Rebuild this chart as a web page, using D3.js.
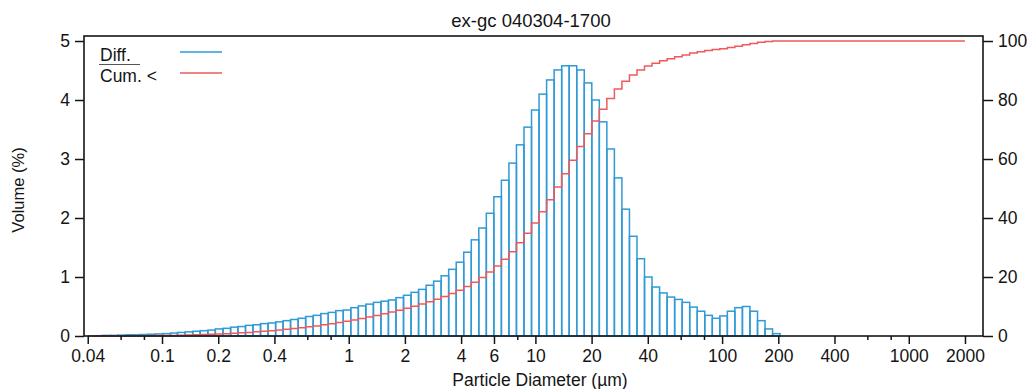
<!DOCTYPE html>
<html>
<head>
<meta charset="utf-8">
<script src="https://cdn.jsdelivr.net/npm/d3@7"></script>
<style>
  body { margin: 0; background: #fff; }
  svg text { font-family: "Liberation Sans", Arial, sans-serif; fill: #141414; }
</style>
</head>
<body>
<svg id="chart" width="1027" height="389"></svg>
<script>
// channel lower edges (um), last entry is the upper edge of the last channel
const channelEdges = [
  0.040, 0.044, 0.048, 0.053, 0.058, 0.064, 0.070, 0.076, 0.084, 0.092,
  0.101, 0.111, 0.121, 0.133, 0.146, 0.160, 0.176, 0.193, 0.212, 0.233,
  0.255, 0.280, 0.307, 0.337, 0.370, 0.406, 0.445, 0.488, 0.536, 0.588,
  0.645, 0.708, 0.777, 0.852, 0.935, 1.026, 1.126, 1.235, 1.356, 1.488,
  1.632, 1.791, 1.966, 2.157, 2.367, 2.597, 2.850, 3.127, 3.431, 3.765,
  4.132, 4.534, 4.975, 5.460, 5.991, 6.574, 7.214, 7.916, 8.687, 9.533,
  10.46, 11.48, 12.60, 13.83, 15.17, 16.65, 18.27, 20.05, 22.00, 24.14,
  26.49, 29.07, 31.90, 35.01, 38.41, 42.15, 46.26, 50.76, 55.70, 61.12,
  67.07, 73.60, 80.77, 88.63, 97.26, 106.7, 117.1, 128.5, 141.0, 154.8,
  169.8, 186.4, 204.5, 224.4, 246.3, 270.3, 296.6, 325.5, 357.2, 391.9,
  430.1, 472.0, 517.9, 568.3, 623.7, 684.4, 751.0, 824.1, 904.4, 992.4,
  1089, 1195, 1312, 1439, 1579, 1733, 1902, 2000
];

// Diff. volume % per channel
const diffVolume = [
  0, 0.005, 0.01, 0.01, 0.015, 0.02, 0.02, 0.025, 0.03, 0.035,
  0.04, 0.05, 0.06, 0.07, 0.08, 0.09, 0.10, 0.12, 0.13, 0.15,
  0.16, 0.18, 0.19, 0.21, 0.22, 0.24, 0.26, 0.28, 0.30, 0.33,
  0.35, 0.38, 0.40, 0.43, 0.44, 0.48, 0.51, 0.54, 0.57, 0.59,
  0.61, 0.65, 0.69, 0.74, 0.79, 0.86, 0.93, 1.02, 1.13, 1.25,
  1.42, 1.63, 1.83, 2.08, 2.36, 2.64, 2.93, 3.24, 3.54, 3.83,
  4.10, 4.34, 4.51, 4.58, 4.58, 4.51, 4.29, 4.00, 3.63, 3.17,
  2.68, 2.15, 1.69, 1.31, 1.00, 0.83, 0.73, 0.66, 0.62, 0.57,
  0.49, 0.42, 0.35, 0.30, 0.34, 0.42, 0.48, 0.50, 0.42, 0.26,
  0.12, 0.04, 0, 0, 0, 0, 0, 0, 0, 0,
  0, 0, 0, 0, 0, 0, 0, 0, 0, 0,
  0, 0, 0, 0, 0, 0, 0
];

// Cum. < volume % at each channel lower edge
const cumVolume = [
  0, 0, 0.005, 0.015, 0.025, 0.04, 0.06, 0.08, 0.105, 0.135,
  0.17, 0.21, 0.26, 0.32, 0.39, 0.47, 0.56, 0.66, 0.78, 0.91,
  1.06, 1.22, 1.40, 1.59, 1.80, 2.02, 2.26, 2.52, 2.80, 3.10,
  3.43, 3.78, 4.16, 4.56, 4.99, 5.43, 5.91, 6.42, 6.96, 7.53,
  8.12, 8.73, 9.38, 10.07, 10.81, 11.60, 12.46, 13.39, 14.41, 15.54,
  16.79, 18.21, 19.84, 21.67, 23.75, 26.0, 28.6, 31.6, 34.8, 38.3,
  42.1, 46.2, 50.5, 55.0, 59.6, 64.2, 68.6, 72.9, 76.9, 80.5,
  83.7, 86.4, 88.5, 90.2, 91.5, 92.5, 93.3, 94.0, 94.7, 95.3,
  95.9, 96.4, 96.8, 97.1, 97.4, 97.8, 98.2, 98.7, 99.2, 99.6,
  99.85, 99.97, 100, 100, 100, 100, 100, 100, 100, 100,
  100, 100, 100, 100, 100, 100, 100, 100, 100, 100,
  100, 100, 100, 100, 100, 100, 100, 100
];

const xMajorTicks = [0.04, 0.1, 0.2, 0.4, 1, 2, 4, 6, 10, 20, 40, 100, 200, 400, 1000, 2000];
const xMinorTicks = [0.06, 0.08, 0.6, 0.8, 8, 60, 80, 600, 800];
const yLeftTicks = [0, 1, 2, 3, 4, 5];
const yRightTicks = [0, 20, 40, 60, 80, 100];

const svg = d3.select('#chart');
const plotLeft = 84, plotRight = 983, plotTop = 36, plotBottom = 336;

const x = d3.scaleLog().domain([0.0382, 2498]).range([plotLeft, plotRight]);
const yL = d3.scaleLinear().domain([0, 5.085]).range([plotBottom, plotTop]);
const yR = d3.scaleLinear().domain([0, 101.7]).range([plotBottom, plotTop]);

const blue = '#2f9ad6';
const red = '#ee5a5c';
const ink = '#141414';

// Diff. bars (outlined)
const bins = diffVolume.map((v, i) => ({ lo: channelEdges[i], hi: channelEdges[i + 1], v }))
  .filter(d => d.v > 0);

svg.append('g')
  .selectAll('rect')
  .data(bins)
  .enter()
  .append('rect')
  .attr('x', d => x(d.lo))
  .attr('width', d => x(d.hi) - x(d.lo))
  .attr('y', d => yL(d.v))
  .attr('height', d => yL(0) - yL(d.v))
  .attr('fill', 'none')
  .attr('stroke', blue)
  .attr('stroke-width', 1.5);

// Cum. < step line
const cumPts = cumVolume.map((v, i) => [channelEdges[i], v]);
cumPts.push([channelEdges[channelEdges.length - 1], cumVolume[cumVolume.length - 1]]);

const line = d3.line()
  .x(d => x(d[0]))
  .y(d => yR(d[1]))
  .curve(d3.curveStepAfter);

svg.append('path')
  .datum(cumPts)
  .attr('d', line)
  .attr('fill', 'none')
  .attr('stroke', red)
  .attr('stroke-width', 1.5);

// axes
function styleAxis(g, size) {
  g.select('.domain').remove();
  g.selectAll('line').attr('stroke', ink).attr('stroke-width', 1.5);
  g.selectAll('text').attr('font-size', size).attr('font-family', '"Liberation Sans", Arial, sans-serif').attr('fill', ink);
}

svg.append('g')
  .attr('transform', `translate(0,${plotBottom})`)
  .call(d3.axisBottom(x).tickValues(xMinorTicks).tickSize(4).tickFormat(''))
  .call(g => styleAxis(g, 17));

svg.append('g')
  .attr('transform', `translate(0,${plotBottom})`)
  .call(d3.axisBottom(x).tickValues(xMajorTicks).tickSize(8).tickPadding(6).tickFormat(d => String(d)))
  .call(g => styleAxis(g, 17.5));

svg.append('g')
  .attr('transform', `translate(${plotLeft},0)`)
  .call(d3.axisLeft(yL).tickValues(yLeftTicks).tickSize(9).tickPadding(5).tickFormat(d3.format('d')))
  .call(g => styleAxis(g, 17.5));

svg.append('g')
  .attr('transform', `translate(${plotRight},0)`)
  .call(d3.axisRight(yR).tickValues(yRightTicks).tickSize(10).tickPadding(5).tickFormat(d3.format('d')))
  .call(g => styleAxis(g, 17.5));

// frame
svg.append('rect')
  .attr('x', plotLeft).attr('y', plotTop)
  .attr('width', plotRight - plotLeft).attr('height', plotBottom - plotTop)
  .attr('fill', 'none')
  .attr('stroke', ink)
  .attr('stroke-width', 1.6);

// title and axis labels
svg.append('text')
  .attr('x', 531).attr('y', 27)
  .attr('text-anchor', 'middle')
  .attr('font-size', 18.5)
  .text('ex-gc 040304-1700');

svg.append('text')
  .attr('x', 540).attr('y', 386)
  .attr('text-anchor', 'middle')
  .attr('font-size', 17.5)
  .text('Particle Diameter (µm)');

svg.append('text')
  .attr('transform', 'translate(24,190) rotate(-90)')
  .attr('text-anchor', 'middle')
  .attr('font-size', 16.5)
  .text('Volume (%)');

// legend
const legend = svg.append('g');
legend.append('text').attr('x', 100).attr('y', 61).attr('font-size', 17.5).text('Diff.');
legend.append('line').attr('x1', 99).attr('x2', 140).attr('y1', 64.5).attr('y2', 64.5)
  .attr('stroke', '#555').attr('stroke-width', 1);
legend.append('text').attr('x', 100).attr('y', 82).attr('font-size', 17.5).text('Cum. <');
legend.append('line').attr('x1', 180).attr('x2', 222).attr('y1', 52).attr('y2', 52)
  .attr('stroke', blue).attr('stroke-width', 1.5);
legend.append('line').attr('x1', 180).attr('x2', 222).attr('y1', 73).attr('y2', 73)
  .attr('stroke', red).attr('stroke-width', 1.5);
</script>
</body>
</html>
